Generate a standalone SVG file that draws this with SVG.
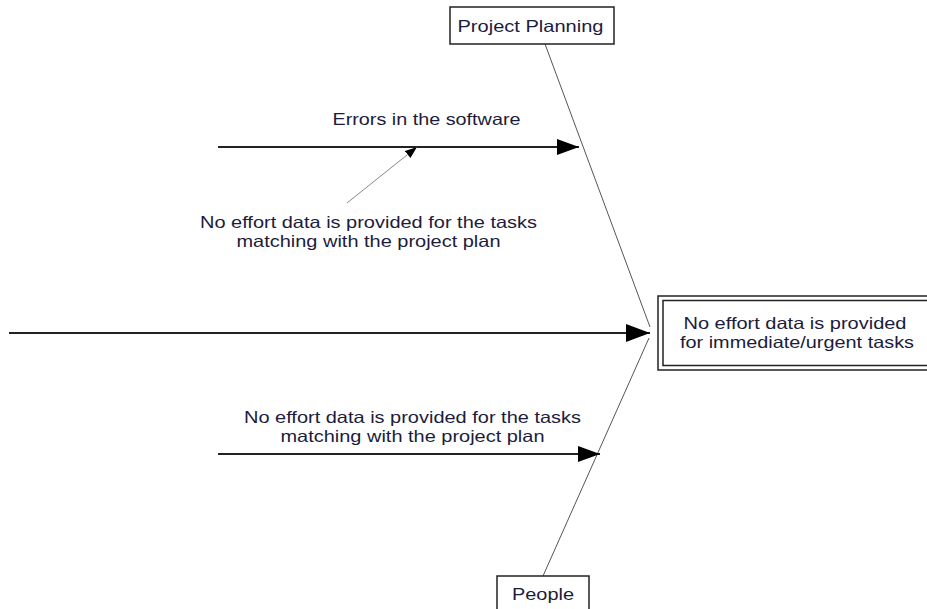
<svg xmlns="http://www.w3.org/2000/svg" width="927" height="609" viewBox="0 0 927 609">
  <style>
    .t { font-family: "Liberation Sans", Arial, sans-serif; font-size: 16.5px; fill: #1c1c3c; text-anchor: middle; }
    .box { fill: #ffffff; stroke: #222222; stroke-width: 1.5; }
    .branch { stroke: #222222; stroke-width: 2; fill: none; }
    .bone { stroke: #555555; stroke-width: 1; fill: none; }
    .sub { stroke: #888888; stroke-width: 1; fill: none; }
  </style>
  <defs>
    <marker id="bigHead" markerUnits="userSpaceOnUse" markerWidth="24" markerHeight="18" refX="24" refY="9" orient="auto">
      <path d="M0,0 L24,9 L0,18 Z" fill="#000000"/>
    </marker>
    <marker id="head" markerUnits="userSpaceOnUse" markerWidth="22" markerHeight="16" refX="22" refY="8" orient="auto">
      <path d="M0,0 L22,8 L0,16 Z" fill="#000000"/>
    </marker>
    <marker id="smallHead" markerUnits="userSpaceOnUse" markerWidth="12" markerHeight="9" refX="12" refY="4.5" orient="auto">
      <path d="M0,0 L12,4.5 L0,9 Z" fill="#000000"/>
    </marker>
  </defs>

  <g id="connectors">
    <line class="bone" x1="545" y1="44" x2="650" y2="327"/>
    <line class="bone" x1="543" y1="576" x2="649" y2="338"/>
    <line class="branch" x1="9" y1="333" x2="650" y2="333" marker-end="url(#bigHead)"/>
    <line class="branch" x1="218" y1="147" x2="579" y2="147" marker-end="url(#head)"/>
    <line class="branch" x1="218" y1="454" x2="600" y2="454" marker-end="url(#head)"/>
    <line class="sub" x1="347" y1="203" x2="417" y2="147" marker-end="url(#smallHead)"/>
  </g>

  <g id="project-planning">
    <rect class="box" x="450" y="7" width="164" height="37"/>
    <text class="t" x="530.5" y="32" textLength="146" lengthAdjust="spacingAndGlyphs">Project Planning</text>
  </g>

  <g id="people">
    <rect class="box" x="497" y="576" width="92" height="40"/>
    <text class="t" x="543" y="600" textLength="62" lengthAdjust="spacingAndGlyphs">People</text>
  </g>

  <g id="effect">
    <rect class="box" x="658" y="296" width="280" height="74"/>
    <rect class="box" x="663" y="300.5" width="270" height="65"/>
    <text class="t" x="795" y="329" textLength="223" lengthAdjust="spacingAndGlyphs">No effort data is provided</text>
    <text class="t" x="797" y="348" textLength="234" lengthAdjust="spacingAndGlyphs">for immediate/urgent tasks</text>
  </g>

  <g id="cause-errors">
    <text class="t" x="426.5" y="125" textLength="188" lengthAdjust="spacingAndGlyphs">Errors in the software</text>
  </g>

  <g id="subcause-upper">
    <text class="t" x="368.5" y="228" textLength="337" lengthAdjust="spacingAndGlyphs">No effort data is provided for the tasks</text>
    <text class="t" x="368.5" y="247" textLength="264" lengthAdjust="spacingAndGlyphs">matching with the project plan</text>
  </g>

  <g id="cause-lower">
    <text class="t" x="412.5" y="423" textLength="337" lengthAdjust="spacingAndGlyphs">No effort data is provided for the tasks</text>
    <text class="t" x="412.5" y="442" textLength="264" lengthAdjust="spacingAndGlyphs">matching with the project plan</text>
  </g>
</svg>
